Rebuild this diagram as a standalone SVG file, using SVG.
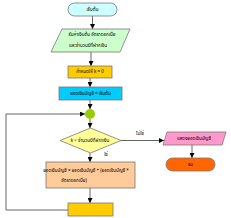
<svg xmlns="http://www.w3.org/2000/svg" width="231" height="218" viewBox="0 0 231 218">
<defs>
<marker id="ah" viewBox="0 0 10 10" refX="10" refY="5" markerWidth="5" markerHeight="5" orient="auto" markerUnits="userSpaceOnUse">
<path d="M0,0 L10,5 L0,10 z" fill="#000"/>
</marker>
</defs>
<style>
.t{font-family:"Noto Sans","Noto Sans Thai","DejaVu Sans",sans-serif;font-size:4.5px;fill:#000;text-anchor:middle;dominant-baseline:middle}
.c{fill:none;stroke:#666;stroke-width:1}
.s{stroke:#777;stroke-width:0.8}
</style>
<rect width="231" height="218" fill="#fff"/>
<g id="connectors">
<line class="c" x1="92.5" y1="16" x2="92.5" y2="29" marker-end="url(#ah)"/>
<line class="c" x1="91" y1="52" x2="91" y2="66" marker-end="url(#ah)"/>
<line class="c" x1="90" y1="78" x2="90" y2="87" marker-end="url(#ah)"/>
<line class="c" x1="90" y1="100" x2="90" y2="109" marker-end="url(#ah)"/>
<line class="c" x1="90" y1="119" x2="90" y2="128" marker-end="url(#ah)"/>
<line class="c" x1="121" y1="140.5" x2="164" y2="140.5" marker-end="url(#ah)"/>
<line class="c" x1="192" y1="145" x2="192" y2="158" marker-end="url(#ah)"/>
<line class="c" x1="90" y1="153" x2="90" y2="162" marker-end="url(#ah)"/>
<line class="c" x1="90" y1="188" x2="90" y2="203" marker-end="url(#ah)"/>
<polyline class="c" points="68,210 6,210 6,114 85,114" marker-end="url(#ah)"/>
<text class="t" x="140" y="134">ไม่ใช่</text>
<text class="t" x="106" y="155">ใช่</text>
</g>
<g id="start">
<rect x="68" y="3" width="49" height="13" rx="6.5" fill="#CCFFFF" class="s"/>
<text class="t" x="92.5" y="9.5">เริ่มต้น</text>
</g>
<g id="input">
<polygon points="62,29 130,29 120,52 51,52" fill="#CCFFCC" class="s"/>
<text class="t" x="92" y="35">รับค่าเงินต้น อัตราดอกเบี้ย</text>
<text class="t" x="88" y="46">และจำนวนปีที่ฝากเงิน</text>
</g>
<g id="init-k">
<rect x="68" y="66" width="44" height="12" fill="#FFCC00" class="s"/>
<text class="t" x="90" y="72">กำหนดให้ k = 0</text>
</g>
<g id="init-balance">
<rect x="59" y="87" width="63" height="13" fill="#00CCFF" class="s"/>
<text class="t" x="90.5" y="93.5">ยอดเงินบัญชี = เงินต้น</text>
</g>
<g id="join">
<circle cx="90" cy="114" r="5" fill="#99CC00"/>
</g>
<g id="decision">
<polygon points="90.5,128 121,140.5 90.5,153 60,140.5" fill="#FFFF99" class="s"/>
<text class="t" x="90" y="140.5">k &lt; จำนวนปีที่ฝากเงิน</text>
</g>
<g id="calc">
<rect x="46" y="162" width="89" height="26" fill="#FFCC99" class="s"/>
<text class="t" x="86" y="171">ยอดเงินบัญชี = ยอดเงินบัญชี + (ยอดเงินบัญชี *</text>
<text class="t" x="74" y="181">อัตราดอกเบี้ย)</text>
</g>
<g id="increment">
<rect x="68" y="203" width="45" height="13" fill="#FFCC00" class="s"/>
</g>
<g id="output">
<polygon points="167,132 226,132 222,145 163,145" fill="#FF99CC" class="s"/>
<text class="t" x="194" y="138.5">แสดงยอดเงินบัญชี</text>
</g>
<g id="end">
<rect x="166" y="158" width="49" height="13" rx="6.5" fill="#FF6600" class="s"/>
<text class="t" x="190.5" y="164.5">จบ</text>
</g>
</svg>
